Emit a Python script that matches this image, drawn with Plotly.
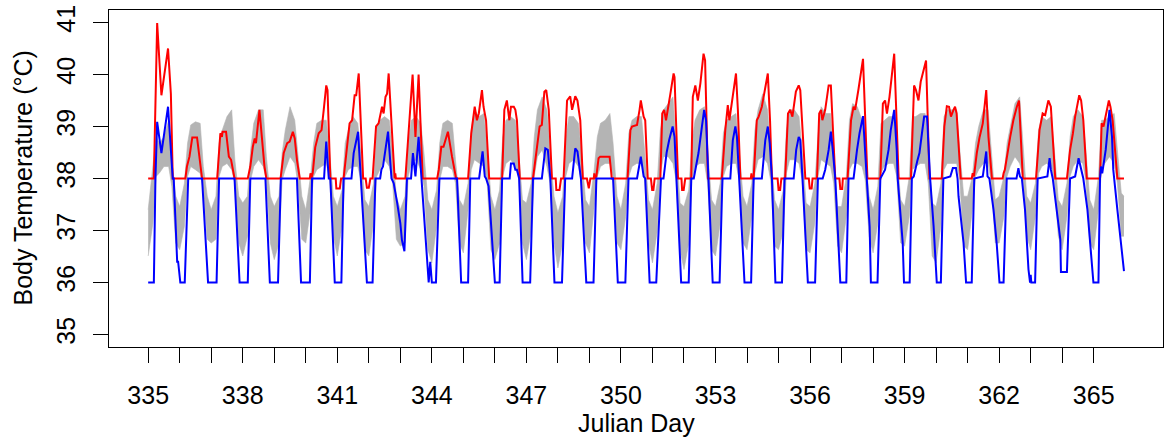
import plotly.graph_objects as go

# ---------------- data ----------------
RED_T = [
    335.00, 335.18, 335.285, 335.42, 335.63, 335.72, 335.78,
    336.18, 336.23, 336.31, 336.40, 336.55, 336.71,
    337.19, 337.29, 337.34, 337.36, 337.47, 337.56, 337.63, 337.74,
    338.16, 338.24, 338.32, 338.38, 338.42, 338.53, 338.61, 338.69, 338.75,
    339.20, 339.30, 339.41, 339.49, 339.59, 339.65, 339.72, 339.81,
    340.13, 340.15, 340.18, 340.22, 340.30, 340.41, 340.50, 340.57, 340.65, 340.69, 340.78,
    340.95, 340.97, 341.08, 341.12,
    341.20, 341.31, 341.39, 341.47, 341.55, 341.60, 341.68, 341.82,
    341.90, 341.94, 342.00, 342.05,
    342.12, 342.23, 342.31, 342.42, 342.47, 342.53, 342.58, 342.63, 342.82, 342.84, 342.86,
    343.16, 343.39, 343.48, 343.58, 343.71,
    344.17, 344.22, 344.30, 344.37, 344.51, 344.64, 344.77,
    345.15, 345.25, 345.36, 345.43, 345.49, 345.59, 345.64, 345.72, 345.82,
    346.23, 346.30, 346.38, 346.46, 346.51, 346.60, 346.65, 346.70, 346.79,
    347.21, 347.34, 347.42, 347.49, 347.57, 347.63, 347.71, 347.81,
    347.93, 347.95, 348.05, 348.10,
    348.18, 348.29, 348.39, 348.45, 348.55, 348.62, 348.71, 348.79,
    348.92, 348.98, 349.03,
    349.14, 349.155, 349.17, 349.22, 349.29, 349.34, 349.64, 349.71,
    350.21, 350.30, 350.35, 350.51, 350.59, 350.63, 350.72, 350.77, 350.85,
    350.95, 350.99, 351.03, 351.07,
    351.25, 351.31, 351.37, 351.43, 351.51, 351.56, 351.67, 351.70, 351.81,
    351.92, 351.94, 351.99, 352.04,
    352.23, 352.28, 352.36, 352.44, 352.52, 352.62, 352.67, 352.76,
    353.20, 353.31, 353.39, 353.44, 353.52, 353.65, 353.71, 353.79,
    354.12, 354.14, 354.16,
    354.21, 354.31, 354.37, 354.47, 354.58, 354.66, 354.73, 354.79,
    354.97, 355.00, 355.05, 355.09,
    355.21, 355.30, 355.37, 355.44, 355.55, 355.64, 355.69, 355.85,
    355.96, 355.99, 356.05, 356.08,
    356.22, 356.29, 356.35, 356.39, 356.48, 356.59, 356.66, 356.72, 356.80,
    356.93, 356.96, 357.02, 357.04,
    357.19, 357.30, 357.38, 357.43, 357.54, 357.68, 357.82,
    358.23, 358.31, 358.38, 358.44, 358.52, 358.67, 358.81,
    359.20, 359.30, 359.36, 359.44, 359.51, 359.60, 359.68, 359.79,
    360.18, 360.26, 360.34, 360.41, 360.47, 360.55, 360.60, 360.65, 360.78,
    361.13, 361.16, 361.20, 361.29, 361.38, 361.48, 361.59, 361.66, 361.77,
    362.11, 362.14, 362.18, 362.35, 362.45, 362.56, 362.63, 362.75,
    363.17, 363.28, 363.38, 363.46, 363.56, 363.64, 363.78,
    364.15, 364.25, 364.34, 364.41, 364.54, 364.60, 364.67, 364.78,
    365.20, 365.25, 365.31, 365.38, 365.48, 365.53, 365.60, 365.75, 365.96,
]
RED_V = [
    38.0, 38.0, 40.99, 39.6, 40.5, 39.63, 38.0,
    38.0, 38.23, 38.42, 38.79, 38.79, 38.0,
    38.0, 38.87, 38.80, 38.90, 38.90, 38.42, 38.36, 38.0,
    38.0, 38.23, 38.61, 38.77, 38.68, 39.32, 38.80, 38.23, 38.0,
    38.0, 38.49, 38.68, 38.71, 38.90, 38.77, 38.36, 38.0,
    38.0, 38.1, 38.0, 38.1, 38.6, 38.87, 38.93, 39.32, 39.79, 39.70, 38.0,
    38.0, 37.81, 37.81, 38.0,
    38.0, 38.55, 39.06, 39.12, 39.60, 39.60, 40.02, 38.0,
    38.0, 37.82, 37.82, 38.0,
    38.0, 39.0, 39.06, 39.38, 39.25, 39.57, 39.63, 40.02, 38.0, 38.10, 38.0,
    38.0, 40.0, 38.8, 40.0, 38.0,
    38.0, 38.17, 38.61, 38.61, 38.90, 38.42, 38.0,
    38.0, 38.87, 39.38, 39.12, 39.25, 39.70, 39.38, 39.12, 38.0,
    38.0, 39.32, 39.50, 39.12, 39.38, 39.38, 39.32, 39.12, 38.0,
    38.0, 38.68, 39.0, 39.03, 39.67, 39.70, 39.32, 38.0,
    38.0, 37.78, 37.78, 38.0,
    38.0, 39.50, 39.58, 39.32, 39.58, 39.50, 39.12, 38.0,
    38.0, 37.81, 38.0,
    38.0, 38.1, 38.0, 38.04, 38.39, 38.42, 38.42, 38.0,
    38.0, 38.93, 39.0, 39.03, 39.32, 39.50, 39.19, 39.12, 38.0,
    38.0, 37.78, 37.78, 38.0,
    38.0, 39.25, 39.32, 39.12, 39.38, 39.6, 40.02, 39.95, 38.0,
    38.0, 37.78, 37.78, 38.0,
    38.0, 39.57, 39.79, 39.50, 39.83, 40.40, 40.27, 38.0,
    38.0, 38.93, 39.41, 39.12, 39.50, 40.02, 39.32, 38.0,
    38.0, 38.1, 38.0,
    38.0, 39.12, 39.19, 39.38, 39.76, 40.02, 39.12, 38.0,
    38.0, 37.78, 37.78, 38.0,
    38.0, 39.25, 39.32, 39.19, 39.67, 39.79, 39.70, 38.0,
    38.0, 37.81, 37.81, 38.0,
    38.0, 39.25, 39.32, 39.12, 39.32, 39.79, 39.79, 39.12, 38.0,
    38.0, 37.8, 37.8, 38.0,
    38.0, 39.12, 39.38, 39.32, 39.73, 40.30, 38.0,
    38.0, 39.44, 39.50, 39.25, 39.57, 40.40, 38.0,
    38.0, 39.79, 39.70, 39.50, 39.86, 40.05, 40.27, 38.0,
    38.0, 39.0, 39.39, 39.38, 39.19, 39.32, 39.38, 39.25, 38.0,
    38.0, 38.1, 38.04, 38.49, 38.80, 39.06, 39.70, 38.80, 38.0,
    38.0, 38.1, 38.17, 38.80, 39.12, 39.38, 39.50, 38.0,
    38.0, 38.93, 39.25, 39.22, 39.50, 39.38, 38.0,
    38.0, 38.55, 38.87, 39.19, 39.60, 39.50, 39.12, 38.0,
    38.0, 39.06, 39.0, 39.19, 39.50, 39.38, 39.12, 38.0, 38.0,
]

BLUE_T = [
    335.00, 335.18, 335.23, 335.285, 335.42, 335.63, 335.78, 335.81, 335.92, 335.95, 336.02,
    336.16, 336.27, 336.71, 336.90,
    337.17, 337.25, 337.74, 337.90,
    338.16, 338.24, 338.72, 338.86,
    339.12, 339.21, 339.72, 339.85,
    340.13, 340.20, 340.58, 340.65, 340.73, 340.78, 340.92,
    341.13, 341.20, 341.45, 341.52, 341.66, 341.75, 341.94,
    342.12, 342.21, 342.36, 342.40, 342.45, 342.53, 342.61, 342.72, 342.79, 342.90, 343.00, 343.05, 343.13,
    343.21, 343.34, 343.40, 343.48, 343.58, 343.67, 343.90, 343.95, 344.00,
    344.13, 344.24, 344.80, 344.93,
    345.15, 345.22, 345.50, 345.61, 345.68, 345.72, 345.80, 345.91, 346.00,
    346.15, 346.23, 346.47, 346.51, 346.60, 346.65, 346.70, 346.77, 346.88,
    347.12, 347.21, 347.49, 347.60, 347.68, 347.76, 347.89,
    348.13, 348.23, 348.45, 348.55, 348.62, 348.73, 348.90,
    349.13, 349.22, 349.75, 349.90,
    350.14, 350.24, 350.51, 350.63, 350.72, 350.77, 350.91,
    351.12, 351.27, 351.35, 351.45, 351.53, 351.64, 351.70, 351.76, 351.91,
    352.15, 352.23, 352.31, 352.41, 352.46, 352.57, 352.64, 352.70, 352.78, 352.91,
    353.13, 353.22, 353.47, 353.55, 353.63, 353.68, 353.75, 353.92,
    354.13, 354.21, 354.47, 354.58, 354.66, 354.72, 354.79, 354.90,
    355.11, 355.19, 355.48, 355.56, 355.64, 355.69, 355.76, 355.93,
    356.16, 356.25, 356.40, 356.48, 356.59, 356.66, 356.72, 356.80, 356.96,
    357.15, 357.22, 357.38, 357.49, 357.57, 357.68, 357.75, 357.80, 357.89, 357.93,
    358.14, 358.23, 358.38, 358.49, 358.56, 358.67, 358.75, 358.78, 358.86, 358.94, 358.98,
    359.16, 359.23, 359.29, 359.40, 359.47, 359.55, 359.62, 359.71, 359.76, 359.81, 359.92, 360.02,
    360.15, 360.23, 360.45, 360.53, 360.63, 360.68, 360.71, 360.87, 360.95,
    361.13, 361.21, 361.48, 361.59, 361.63, 361.69, 361.82, 361.92, 362.01,
    362.14, 362.24, 362.55, 362.61, 362.66, 362.72, 362.82, 362.93, 362.98, 363.00, 363.02,
    363.14, 363.22, 363.53, 363.60, 363.64, 363.70, 363.83, 363.94, 363.96,
    364.15, 364.25, 364.41, 364.52, 364.60, 364.67, 364.80, 364.91, 364.94, 364.99,
    365.15, 365.20, 365.23, 365.27, 365.38, 365.50, 365.58, 365.62, 365.75, 365.84, 365.96,
]
BLUE_V = [
    36.0, 36.0, 38.0, 39.09, 38.49, 39.38, 38.0, 38.0, 36.4, 36.4, 36.0,
    36.0, 38.0, 38.0, 36.0,
    36.0, 38.0, 38.0, 36.0,
    36.0, 38.0, 38.0, 36.0,
    36.0, 38.0, 38.0, 36.0,
    36.0, 38.0, 38.0, 38.71, 38.0, 38.0, 36.0,
    36.0, 38.0, 38.0, 38.49, 38.90, 38.0, 36.0,
    36.0, 38.0, 38.0, 38.17, 38.23, 38.61, 38.90, 38.0, 37.91, 37.53, 37.14, 36.82, 36.60,
    38.0, 38.0, 38.49, 38.04, 38.80, 38.0, 36.0, 36.4, 36.0,
    36.0, 38.0, 38.0, 36.0,
    36.0, 38.0, 38.0, 38.52, 38.04, 38.0, 37.85, 36.76, 36.0,
    36.0, 38.0, 38.0, 38.29, 38.29, 38.17, 38.17, 38.0, 36.0,
    36.0, 38.0, 38.0, 38.58, 38.55, 38.0, 36.0,
    36.0, 38.0, 38.0, 38.58, 38.52, 38.0, 36.0,
    36.0, 38.0, 38.0, 36.0,
    36.0, 38.0, 38.0, 38.42, 38.04, 38.0, 36.0,
    36.0, 38.0, 38.0, 38.5, 38.74, 39.0, 38.8, 38.0, 36.0,
    36.0, 38.0, 38.0, 38.33, 38.49, 39.0, 39.32, 39.12, 38.0, 36.0,
    36.0, 38.0, 38.0, 38.74, 39.0, 38.8, 38.0, 36.0,
    36.0, 38.0, 38.0, 38.74, 39.0, 38.68, 38.0, 36.0,
    36.0, 38.0, 38.0, 38.55, 38.80, 38.74, 38.0, 36.0,
    36.0, 38.0, 38.0, 38.17, 38.55, 38.90, 38.55, 38.0, 36.0,
    36.0, 38.0, 38.0, 38.55, 38.87, 39.20, 38.55, 38.0, 37.08, 36.0,
    36.0, 38.0, 38.17, 38.55, 38.93, 39.32, 38.55, 38.0, 37.40, 36.76, 36.0,
    36.0, 38.0, 38.04, 38.33, 38.49, 38.87, 39.19, 39.19, 38.55, 38.0, 37.08, 36.0,
    36.0, 38.0, 38.04, 38.20, 38.20, 38.0, 37.66, 36.76, 36.0,
    36.0, 38.0, 38.04, 38.52, 38.04, 38.0, 37.40, 36.76, 36.0,
    36.0, 38.0, 38.0, 38.20, 38.04, 38.0, 37.40, 36.25, 36.0, 36.15, 36.0,
    36.0, 38.0, 38.04, 38.39, 38.17, 38.0, 37.40, 36.83, 36.2,
    36.2, 38.0, 38.04, 38.39, 38.17, 38.0, 37.40, 36.63, 36.38, 36.0,
    36.0, 38.0, 38.23, 38.10, 38.55, 39.32, 38.80, 38.17, 37.40, 36.89, 36.22,
]

# grey band (range of the measured trace): sample times within each day
GRAY_DAYS = list(range(335, 366))
GRAY_PHASE = [0.0, 0.15, 0.25, 0.35, 0.5, 0.65, 0.75, 0.875]
GRAY_UP = [
    [37.40, 38.23, 38.80, 38.68, 38.80, 39.12, 38.36, 37.66],
    [37.46, 37.91, 38.68, 39.03, 39.09, 39.06, 38.23, 37.66],
    [37.40, 37.66, 38.68, 38.93, 39.19, 39.32, 38.36, 37.66],
    [37.53, 37.66, 38.55, 39.06, 39.32, 39.32, 38.42, 37.66],
    [37.46, 37.66, 38.49, 38.93, 39.38, 39.12, 38.49, 37.66],
    [37.40, 38.04, 38.68, 39.06, 39.12, 39.12, 38.55, 37.66],
    [37.46, 37.78, 38.68, 38.93, 39.19, 39.06, 38.49, 37.59],
    [37.46, 37.91, 39.00, 39.12, 39.19, 39.12, 38.55, 37.66],
    [37.40, 37.66, 38.68, 39.12, 39.19, 39.06, 38.49, 37.59],
    [37.40, 37.78, 38.68, 39.06, 39.12, 39.06, 38.36, 37.59],
    [37.46, 37.91, 38.93, 39.32, 39.19, 39.25, 38.61, 37.66],
    [37.40, 37.78, 38.80, 39.12, 39.19, 39.12, 38.55, 37.59],
    [37.53, 37.91, 38.80, 39.32, 39.57, 39.32, 38.55, 37.66],
    [37.34, 37.66, 38.80, 39.19, 39.19, 39.06, 38.49, 37.59],
    [37.46, 38.17, 38.80, 39.06, 39.12, 39.25, 38.68, 37.66],
    [37.40, 37.91, 38.87, 39.12, 39.19, 39.19, 38.55, 37.59],
    [37.40, 37.91, 38.93, 39.32, 39.44, 39.57, 38.68, 37.53],
    [37.46, 37.78, 38.68, 39.12, 39.32, 39.38, 38.55, 37.59],
    [37.46, 37.91, 38.87, 39.12, 39.19, 39.25, 38.55, 37.66],
    [37.46, 37.91, 38.93, 39.32, 39.63, 39.32, 38.55, 37.59],
    [37.40, 37.78, 38.93, 39.32, 39.32, 39.19, 38.55, 37.53],
    [37.46, 37.91, 38.80, 39.38, 39.25, 39.25, 38.49, 37.46],
    [37.46, 38.04, 39.12, 39.44, 39.38, 39.12, 38.49, 37.66],
    [37.40, 37.85, 39.06, 39.12, 39.19, 39.19, 38.55, 37.59],
    [37.46, 38.04, 39.19, 39.19, 39.25, 39.25, 38.49, 37.53],
    [37.46, 37.91, 39.19, 39.32, 39.32, 39.32, 38.55, 37.66],
    [37.66, 38.04, 38.68, 39.00, 39.32, 39.32, 38.55, 37.59],
    [37.66, 38.04, 38.68, 39.00, 39.44, 39.57, 38.68, 37.66],
    [37.53, 37.91, 38.93, 39.19, 39.12, 39.19, 38.55, 37.59],
    [37.46, 37.91, 38.80, 39.19, 39.32, 39.19, 38.55, 37.59],
    [37.40, 38.04, 39.12, 39.12, 39.19, 39.25, 38.55, 37.72],
]
GRAY_LO = [
    [36.51, 37.14, 38.04, 38.10, 38.23, 38.23, 37.85, 36.76],
    [36.63, 37.08, 38.04, 38.23, 38.17, 38.10, 37.78, 36.83],
    [36.76, 36.83, 38.04, 38.23, 38.29, 38.17, 37.91, 36.76],
    [36.51, 36.89, 37.97, 38.23, 38.36, 38.23, 37.97, 36.76],
    [36.44, 36.76, 37.97, 38.17, 38.42, 38.29, 37.91, 36.83],
    [36.76, 37.40, 38.04, 38.17, 38.23, 38.29, 38.04, 36.89],
    [36.51, 37.08, 38.04, 38.17, 38.23, 38.23, 37.97, 36.63],
    [36.51, 37.14, 38.04, 38.17, 38.36, 38.23, 37.97, 36.83],
    [36.70, 36.76, 38.04, 38.29, 38.36, 38.17, 37.85, 36.63],
    [36.38, 37.08, 37.97, 38.23, 38.23, 38.17, 37.91, 36.76],
    [36.57, 37.40, 38.17, 38.36, 38.29, 38.23, 37.97, 36.63],
    [36.44, 36.76, 38.04, 38.29, 38.36, 38.23, 38.04, 36.76],
    [36.44, 36.98, 38.04, 38.42, 38.55, 38.23, 37.91, 36.76],
    [36.28, 36.76, 38.04, 38.29, 38.36, 38.23, 37.91, 36.76],
    [36.57, 37.40, 38.04, 38.23, 38.29, 38.29, 38.04, 36.76],
    [36.63, 37.27, 38.04, 38.23, 38.29, 38.29, 37.97, 36.76],
    [36.38, 36.98, 38.10, 38.42, 38.42, 38.29, 37.97, 36.63],
    [36.25, 36.76, 37.97, 38.23, 38.29, 38.29, 37.91, 36.63],
    [36.51, 37.14, 38.04, 38.23, 38.29, 38.29, 37.97, 36.76],
    [36.63, 37.27, 38.10, 38.36, 38.42, 38.29, 37.97, 36.70],
    [36.63, 36.98, 38.10, 38.36, 38.36, 38.29, 37.97, 36.63],
    [36.57, 37.14, 38.04, 38.36, 38.29, 38.23, 37.91, 36.70],
    [36.57, 37.27, 38.17, 38.29, 38.29, 38.23, 37.97, 36.89],
    [36.57, 37.14, 38.10, 38.23, 38.29, 38.29, 38.04, 36.76],
    [36.70, 37.27, 38.17, 38.23, 38.29, 38.29, 37.91, 36.51],
    [36.38, 37.08, 38.17, 38.29, 38.29, 38.29, 37.97, 36.70],
    [36.63, 37.40, 38.04, 38.17, 38.29, 38.29, 37.91, 36.76],
    [36.76, 37.27, 38.04, 38.23, 38.42, 38.29, 38.04, 36.89],
    [36.63, 37.27, 38.10, 38.23, 38.29, 38.23, 37.97, 36.89],
    [36.63, 37.27, 38.04, 38.23, 38.36, 38.29, 37.97, 36.76],
    [36.63, 37.40, 38.17, 38.29, 38.42, 38.29, 37.91, 36.89],
]
GRAY_END_T = 365.96
GRAY_END_UP = 37.66
GRAY_END_LO = 36.89

X_TICKS = list(range(335, 366))
X_LABELS = [str(d) if (d - 335) % 3 == 0 else "" for d in X_TICKS]
Y_TICKS = [35, 36, 37, 38, 39, 40, 41]

assert len(RED_T) == len(RED_V), (len(RED_T), len(RED_V))
assert len(BLUE_T) == len(BLUE_V), (len(BLUE_T), len(BLUE_V))

gray_t = [d + p for d in GRAY_DAYS for p in GRAY_PHASE] + [GRAY_END_T]
gray_up = [v for row in GRAY_UP for v in row] + [GRAY_END_UP]
gray_lo = [v for row in GRAY_LO for v in row] + [GRAY_END_LO]

FONT = "Liberation Sans, Arial, Helvetica, sans-serif"
GREY = "#B4B4B4"

fig = go.Figure()
fig.add_trace(go.Scatter(x=gray_t, y=gray_lo, mode="lines",
                         line=dict(width=0.6, color=GREY), hoverinfo="skip",
                         showlegend=False))
fig.add_trace(go.Scatter(x=gray_t, y=gray_up, mode="lines", fill="tonexty",
                         fillcolor=GREY, line=dict(width=0.6, color=GREY),
                         hoverinfo="skip", showlegend=False))
fig.add_trace(go.Scatter(x=RED_T, y=RED_V, mode="lines",
                         line=dict(color="#FF0000", width=2), showlegend=False))
fig.add_trace(go.Scatter(x=BLUE_T, y=BLUE_V, mode="lines",
                         line=dict(color="#0000FF", width=2), showlegend=False))

axis_common = dict(showline=True, linecolor="black", linewidth=1.3, mirror=True,
                   ticks="outside", ticklen=15, tickwidth=1.3, tickcolor="black",
                   showgrid=False, zeroline=False,
                   tickfont=dict(family=FONT, size=25, color="black"))

fig.update_xaxes(range=[333.757, 367.198], tickmode="array", tickvals=X_TICKS,
                 ticktext=X_LABELS, ticklabelstandoff=11, **axis_common)
fig.update_yaxes(range=[34.76, 41.24], tickmode="array", tickvals=Y_TICKS,
                 ticktext=[str(v) for v in Y_TICKS], tickangle=-90,
                 ticklabelstandoff=8, **axis_common)

fig.add_annotation(text="Julian Day", xref="paper", yref="paper",
                   x=0.5, y=-0.2255, xanchor="center", yanchor="middle",
                   showarrow=False, font=dict(family=FONT, size=25, color="black"))
fig.add_annotation(text="Body Temperature (°C)", xref="paper", yref="paper",
                   x=-0.0825, y=0.5, xanchor="center", yanchor="middle",
                   textangle=-90, showarrow=False,
                   font=dict(family=FONT, size=25, color="black"))

fig.update_layout(width=1168, height=437, plot_bgcolor="white", paper_bgcolor="white",
                  margin=dict(l=109, r=5, t=10, b=90), showlegend=False)

fig.write_html("out.html")
